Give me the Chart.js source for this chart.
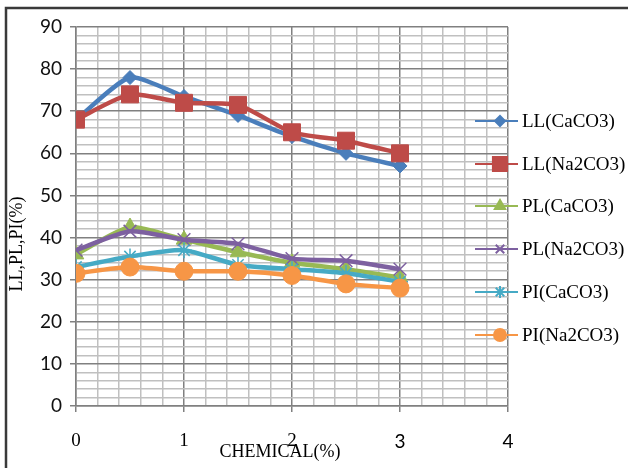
<!DOCTYPE html>
<html>
<head>
<meta charset="utf-8">
<script src="https://cdn.jsdelivr.net/npm/chart.js@4/dist/chart.umd.min.js"></script>
<style>
  html, body { margin: 0; padding: 0; background: #fff; }
  #wrap { width: 628px; height: 468px; position: relative; }
</style>
</head>
<body>
<div id="wrap"><canvas id="c" width="628" height="468"></canvas></div>
<script>
// Dados
const chemical = [0, 0.5, 1, 1.5, 2, 2.5, 3];
const llCaCO3  = [68, 78, 73.5, 69, 64, 60, 57];
const llNa2CO3 = [68, 74, 72, 71.5, 65, 63, 60];
const plCaCO3  = [36, 42.5, 39.5, 36.5, 34, 32.5, 30.5];
const plNa2CO3 = [37, 41.5, 39.5, 38.5, 35, 34.5, 32.5];
const piCaCO3  = [33, 35.5, 37, 33.5, 32.5, 31.5, 29.5];
const piNa2CO3 = [31.5, 33, 32, 32, 31, 29, 28];
const seriesNames = ['LL(CaCO3)', 'LL(Na2CO3)', 'PL(CaCO3)', 'PL(Na2CO3)', 'PI(CaCO3)', 'PI(Na2CO3)'];
const yTicksMajor = [0, 10, 20, 30, 40, 50, 60, 70, 80, 90];
const xTicksMajor = [0, 1, 2, 3, 4];

// Estilos de cada série (cores do Excel 2007)
const styles = [
  { color: '#4A7EBB', point: 'rectRot', r: 7, lr: 5 },
  { color: '#BE4B48', point: 'rect', r: 12, lr: 10 },
  { color: '#98B954', point: 'triangle', r: 9, lr: 6 },
  { color: '#7D60A0', point: 'crossRot', r: 9, lr: 6 },
  { color: '#46AAC5', point: 'star', r: 8, lr: 6 },
  { color: '#F79646', point: 'circle', r: 9, lr: 6 }
];
const allValues = [llCaCO3, llNa2CO3, plCaCO3, plNa2CO3, piCaCO3, piNa2CO3];

const isMajor = (v, list) => list.some(m => Math.abs(v - m) < 1e-6);
const thinPoint = p => p === 'crossRot' || p === 'star';

const datasets = allValues.map((vals, i) => ({
  label: seriesNames[i],
  data: vals.map((y, k) => ({ x: chemical[k], y })),
  borderColor: styles[i].color,
  backgroundColor: styles[i].color,
  borderWidth: 4.5,
  tension: 0.2,
  pointStyle: styles[i].point,
  pointRadius: styles[i].r,
  pointBorderWidth: thinPoint(styles[i].point) ? 1.5 : 1,
  order: 6 - i
}));

// Moldura, títulos dos eixos e legenda desenhados à mão
const decor = {
  id: 'decor',
  beforeDraw(chart) {
    const ctx = chart.ctx;
    ctx.save();
    ctx.fillStyle = '#fff';
    ctx.fillRect(0, 0, chart.width, chart.height);
    ctx.strokeStyle = '#3a3a3a';
    ctx.lineWidth = 2.5;
    ctx.beginPath();
    ctx.moveTo(6, 470); ctx.lineTo(6, 8); ctx.lineTo(630, 8);
    ctx.stroke();
    ctx.restore();
  },
  afterDraw(chart) {
    const ctx = chart.ctx;
    ctx.save();
    ctx.fillStyle = '#000';
    ctx.font = '18px "Liberation Serif"';
    ctx.textAlign = 'center';
    ctx.textBaseline = 'middle';
    ctx.fillText('CHEMICAL(%)', 280, 452);
    ctx.translate(17, 244);
    ctx.rotate(-Math.PI / 2);
    ctx.fillText('LL,PL,PI(%)', 0, 0);
    ctx.restore();

    // legenda
    ctx.save();
    const ys = [121, 164, 206, 249, 292, 335];
    seriesNames.forEach((name, i) => {
      const y = ys[i];
      ctx.strokeStyle = styles[i].color;
      ctx.lineWidth = 2;
      ctx.beginPath();
      ctx.moveTo(475, y); ctx.lineTo(518, y);
      ctx.stroke();
      ctx.fillStyle = styles[i].color;
      Chart.helpers.drawPoint(ctx, {
        pointStyle: styles[i].point, radius: styles[i].lr, rotation: 0,
        borderWidth: thinPoint(styles[i].point) ? 1.5 : 1
      }, 500, y);
      ctx.fillStyle = '#000';
      ctx.font = '19px "Liberation Serif"';
      ctx.textAlign = 'left';
      ctx.textBaseline = 'middle';
      ctx.fillText(name, 522, y + 1);
    });
    ctx.restore();
  }
};

new Chart(document.getElementById('c'), {
  type: 'line',
  data: { datasets },
  options: {
    responsive: false,
    animation: false,
    layout: { padding: { left: 0, top: 27, right: 120, bottom: 0 } },
    plugins: { legend: { display: false }, tooltip: { enabled: false } },
    scales: {
      x: {
        type: 'linear', min: 0, max: 4,
        afterFit: s => { s.height = 62; },
        afterBuildTicks: s => { s.ticks = Array.from({ length: 21 }, (_, k) => ({ value: +(k * 0.2).toFixed(1) })); },
        ticks: {
          autoSkip: false, maxRotation: 0, padding: 18, color: '#000',
          font: c => (c.tick && c.tick.value >= 3)
            ? { family: 'Lato', size: 19 } : { family: '"Liberation Serif"', size: 19 },
          callback: v => isMajor(v, xTicksMajor) ? String(Math.round(v)) : ''
        },
        grid: {
          tickLength: 6,
          color: c => (c.tick && isMajor(c.tick.value, xTicksMajor)) ? '#808080' : '#c0c0c0',
          lineWidth: 1.5,
          tickColor: c => (c.tick && isMajor(c.tick.value, xTicksMajor)) ? '#808080' : 'rgba(0,0,0,0)'
        },
        border: { color: '#808080', width: 1.5 }
      },
      y: {
        min: 0, max: 90,
        afterFit: s => { s.width = 76; },
        afterBuildTicks: s => { s.ticks = Array.from({ length: 46 }, (_, k) => ({ value: k * 2 })); },
        ticks: {
          autoSkip: false, padding: 8, color: '#111',
          font: { family: 'Lato', size: 19 },
          callback: v => isMajor(v, yTicksMajor) ? String(v) : ''
        },
        grid: {
          tickLength: 6,
          color: c => (c.tick && isMajor(c.tick.value, yTicksMajor)) ? '#808080' : '#c0c0c0',
          lineWidth: 1.5,
          tickColor: c => (c.tick && isMajor(c.tick.value, yTicksMajor)) ? '#808080' : 'rgba(0,0,0,0)'
        },
        border: { color: '#808080', width: 1.5 }
      }
    }
  },
  plugins: [decor]
});
</script>
</body>
</html>
